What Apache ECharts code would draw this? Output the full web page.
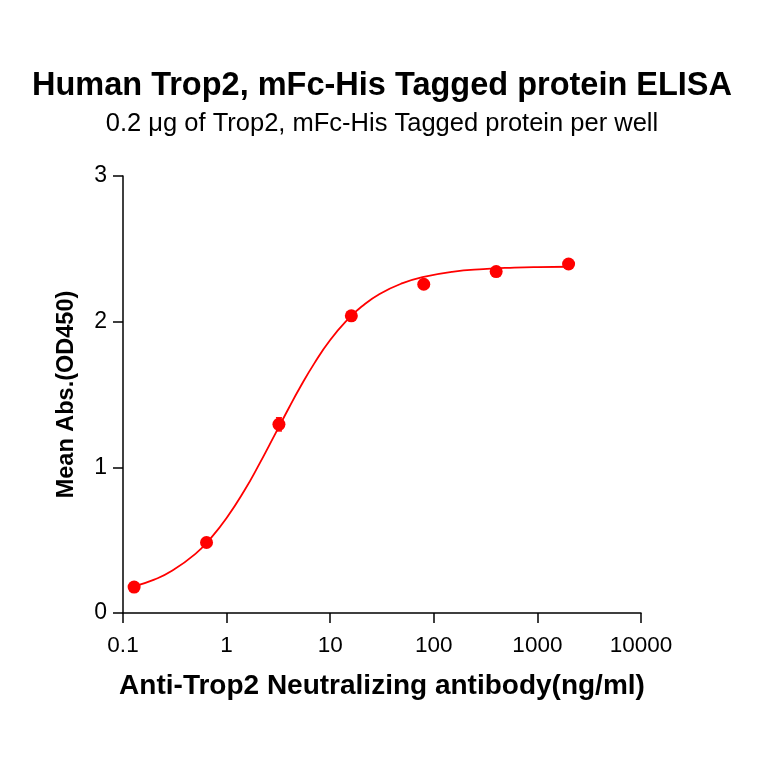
<!DOCTYPE html>
<html>
<head>
<meta charset="UTF-8" />
<title>Trop2 ELISA</title>
<script src="https://cdn.jsdelivr.net/npm/echarts@6/dist/echarts.min.js"></script>
<style type="text/css">
body{
	margin: 0px;
	background: #fff;
}
#chart{
	width: 764px;
	height: 764px;
}
</style>
</head>
<body>
<div id="chart"></div>
<script type="text/javascript">

// measured points (ng/ml, OD450)
var conc = [0.128, 0.64, 3.2, 16, 80, 400, 2000];
var od = [0.178, 0.484, 1.295, 2.04, 2.257, 2.344, 2.396];
var err = [0.01, 0.02, 0.045, 0.01, 0.01, 0.01, 0.01];

// fitted curve
var fitX = [0.128, 0.2, 0.3, 0.5, 0.7, 1, 1.5, 2, 3, 4, 5, 7, 10, 15, 20, 30, 50, 80, 150, 300, 600, 1000, 2000];
var fitY = [0.183, 0.229, 0.291, 0.406, 0.512, 0.652, 0.846, 1.003, 1.24, 1.409, 1.536, 1.712, 1.874, 2.02, 2.102, 2.19, 2.264, 2.307, 2.342, 2.361, 2.371, 2.375, 2.377];

var xTicks = ['0.1', '1', '10', '100', '1000', '10000'];
var yTicks = ['0', '1', '2', '3'];

var red = '#ff0000';
var font = 'Liberation Sans, Arial, sans-serif';

function pairs(a, b){
	var out = [];
	for(var i = 0; i < a.length; i++) out.push([a[i], b[i]]);
	return out;
}

var errData = [];
for(var i = 0; i < conc.length; i++){
	errData.push([conc[i], od[i] - err[i], od[i] + err[i]]);
}

var chart = echarts.init(document.getElementById('chart'));
chart.setOption({
	animation: false,
	backgroundColor: '#fff',
	title: [{
		text: 'Human Trop2, mFc-His Tagged protein ELISA',
		left: 'center',
		top: 70,
		padding: 0,
		textStyle: { fontFamily: font, fontSize: 32.5, lineHeight: 32.5, fontWeight: 'bold', color: '#000' }
	}, {
		text: '0.2 \u03bcg of Trop2, mFc-His Tagged protein per well',
		left: 'center',
		top: 111,
		padding: 0,
		textStyle: { fontFamily: font, fontSize: 25.5, lineHeight: 25.5, fontWeight: 'normal', color: '#000' }
	}],
	grid: { left: 123, right: 123, top: 176, bottom: 151, containLabel: false },
	xAxis: {
		type: 'log',
		logBase: 10,
		min: 0.1,
		max: 10000,
		name: 'Anti-Trop2 Neutralizing antibody(ng/ml)',
		nameLocation: 'middle',
		nameGap: 59,
		nameTextStyle: { fontFamily: font, fontSize: 28, fontWeight: 'bold', color: '#000' },
		axisLine: { lineStyle: { color: '#000', width: 1.5 } },
		axisTick: { length: 10, lineStyle: { color: '#000', width: 1.5 } },
		minorTick: { show: false },
		splitLine: { show: false },
		axisLabel: {
			fontFamily: font, fontSize: 22.5, color: '#000', margin: 21,
			formatter: function(v){
				var k = Math.round(Math.log10(v)) + 1;
				return xTicks[k] !== undefined ? xTicks[k] : '';
			}
		}
	},
	yAxis: {
		type: 'value',
		min: 0,
		max: 3,
		interval: 1,
		name: 'Mean Abs.(OD450)',
		nameLocation: 'middle',
		nameGap: 44,
		nameTextStyle: { fontFamily: font, fontSize: 23.5, fontWeight: 'bold', color: '#000' },
		axisLine: { show: true, lineStyle: { color: '#000', width: 1.5 } },
		axisTick: { show: true, length: 10, lineStyle: { color: '#000', width: 1.5 } },
		splitLine: { show: false },
		axisLabel: {
			fontFamily: font, fontSize: 23, color: '#000', margin: 16,
			formatter: function(v){ return yTicks[v]; }
		}
	},
	series: [{
		type: 'line',
		data: pairs(fitX, fitY),
		smooth: true,
		showSymbol: false,
		symbol: 'none',
		lineStyle: { color: red, width: 1.8 },
		z: 2
	}, {
		type: 'custom',
		data: errData,
		renderItem: function(params, api){
			var x = api.value(0);
			var lo = api.coord([x, api.value(1)]);
			var hi = api.coord([x, api.value(2)]);
			var c = 3;
			var st = { stroke: red, lineWidth: 1.5 };
			return {
				type: 'group',
				children: [
					{ type: 'line', shape: { x1: lo[0], y1: lo[1], x2: hi[0], y2: hi[1] }, style: st },
					{ type: 'line', shape: { x1: lo[0] - c, y1: lo[1], x2: lo[0] + c, y2: lo[1] }, style: st },
					{ type: 'line', shape: { x1: hi[0] - c, y1: hi[1], x2: hi[0] + c, y2: hi[1] }, style: st }
				]
			};
		},
		z: 3
	}, {
		type: 'scatter',
		data: pairs(conc, od),
		symbol: 'circle',
		symbolSize: 13,
		itemStyle: { color: red, opacity: 1 },
		z: 4
	}]
});
</script>
</body>
</html>
